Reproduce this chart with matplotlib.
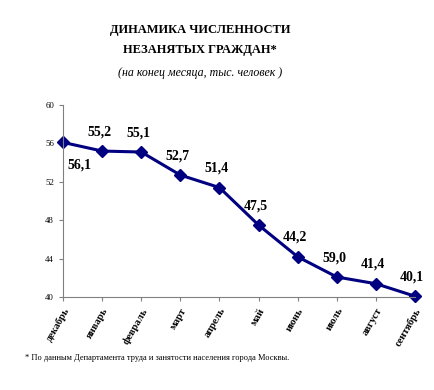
import matplotlib.pyplot as plt

plt.rcParams['font.family'] = ['Liberation Serif', 'DejaVu Serif']

months = ['декабрь', 'январь', 'февраль', 'март', 'апрель', 'май',
          'июнь', 'июль', 'август', 'сентябрь']
values = [56.1, 55.2, 55.1, 52.7, 51.4, 47.5, 44.2, 42.1, 41.4, 40.1]
# labels as printed on the original (июль label reads 59,0)
labels = ['56,1', '55,2', '55,1', '52,7', '51,4', '47,5', '44,2', '59,0', '41,4', '40,1']

fig = plt.figure(figsize=(4.35, 3.9), dpi=100)
ax = fig.add_axes([0.145, 0.238, 0.809, 0.493])

x = range(len(months))
ax.plot(x, values, color='#000080', linewidth=2.2, marker='D', markersize=6.5,
        clip_on=False)

for i, (v, t) in enumerate(zip(values, labels)):
    if i == 0:
        ax.annotate(t, (i, v), xytext=(12, -16), textcoords='offset points',
                    ha='center', va='center', fontsize=10, fontweight='bold')
    else:
        ax.annotate(t, (i, v), xytext=(-2, 14), textcoords='offset points',
                    ha='center', va='center', fontsize=10, fontweight='bold')

ax.set_xlim(0, len(months) - 1)
ax.set_ylim(40, 60)
ax.set_yticks(range(40, 61, 4))
ax.set_xticks(list(x))
ax.set_xticklabels(months, rotation=60, ha='right', va='top',
                   fontsize=7.5, fontweight='bold', rotation_mode='anchor')
ax.tick_params(axis='y', labelsize=6.3, length=3, color='#808080')
ax.tick_params(axis='x', length=3, color='#808080')
for s in ['top', 'right']:
    ax.spines[s].set_visible(False)
ax.spines['left'].set_color('#808080')
ax.spines['bottom'].set_color('#808080')

fig.text(0.46, 0.923, 'ДИНАМИКА ЧИСЛЕННОСТИ', ha='center', va='center',
         fontsize=9, fontweight='bold')
fig.text(0.46, 0.871, 'НЕЗАНЯТЫХ ГРАЖДАН*', ha='center', va='center',
         fontsize=9, fontweight='bold')
fig.text(0.46, 0.812, '(на конец месяца, тыс. человек )', ha='center', va='center',
         fontsize=8.6, style='italic')
fig.text(0.057, 0.083, '* По данным Департамента труда и занятости населения города Москвы.',
         ha='left', va='center', fontsize=6.0)

fig.savefig('out.png', dpi=100)
